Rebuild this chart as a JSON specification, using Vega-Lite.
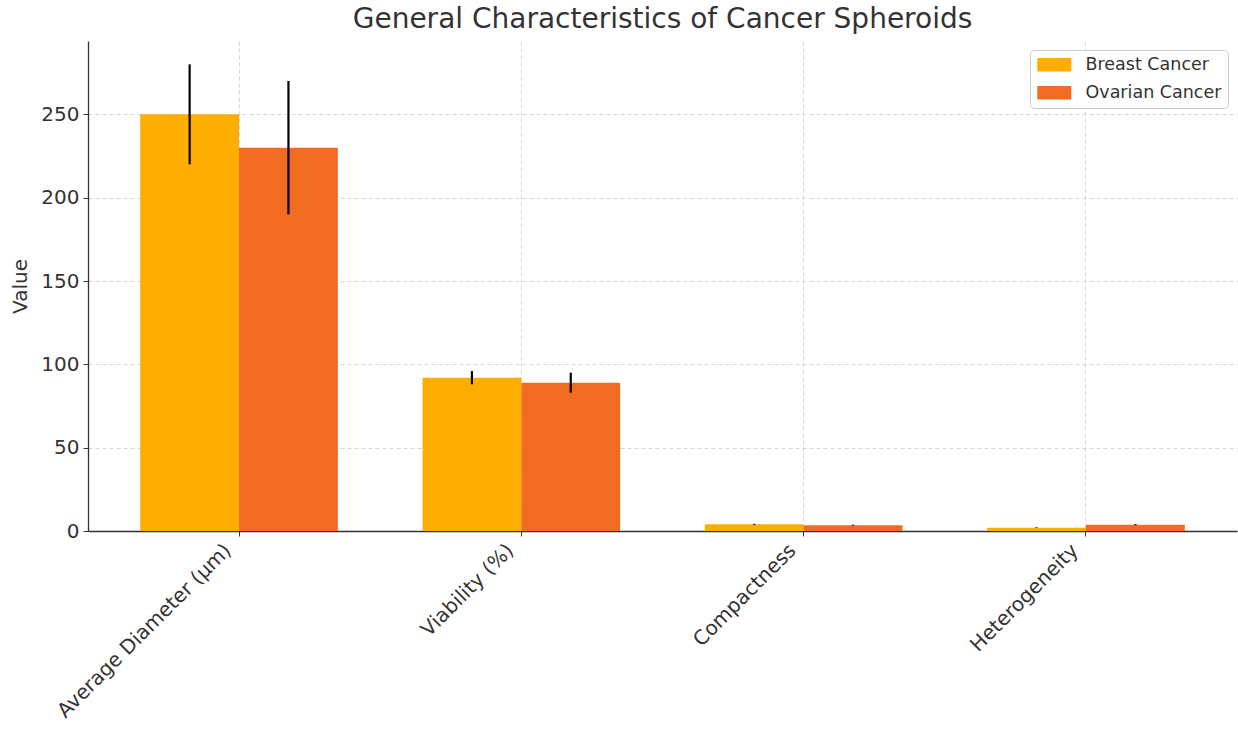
{
  "$schema": "https://vega.github.io/schema/vega-lite/v6.json",
  "width": 1149,
  "height": 490,
  "autosize": {"type": "none"},
  "padding": {"left": 88, "top": 41, "right": 1, "bottom": 198},
  "background": "white",
  "config": {
    "font": "DejaVu Sans",
    "view": {"stroke": null},
    "axis": {"labelColor": "#333333", "titleColor": "#333333", "domainColor": "#333333", "tickColor": "#333333", "gridColor": "#cccccc", "gridDash": [4, 3], "gridWidth": 0.8, "labelFontSize": 20, "titleFontSize": 20, "titleFontWeight": "normal", "tickSize": 5, "domainWidth": 1.3, "labelLimit": 0}
  },
  "title": {"text": "General Characteristics of Cancer Spheroids", "fontSize": 28, "fontWeight": "normal", "color": "#333333", "anchor": "middle", "offset": 7, "frame": "group"},
  "data": {
    "values": [
      {"category": "Average Diameter (μm)", "group": "Breast Cancer", "value": 250, "lo": 220, "hi": 280},
      {"category": "Average Diameter (μm)", "group": "Ovarian Cancer", "value": 230, "lo": 190, "hi": 270},
      {"category": "Viability (%)", "group": "Breast Cancer", "value": 92, "lo": 88, "hi": 96},
      {"category": "Viability (%)", "group": "Ovarian Cancer", "value": 89, "lo": 83, "hi": 95},
      {"category": "Compactness", "group": "Breast Cancer", "value": 4.0, "lo": 3.7, "hi": 4.3},
      {"category": "Compactness", "group": "Ovarian Cancer", "value": 3.5, "lo": 3.2, "hi": 3.8},
      {"category": "Heterogeneity", "group": "Breast Cancer", "value": 2.0, "lo": 1.8, "hi": 2.2},
      {"category": "Heterogeneity", "group": "Ovarian Cancer", "value": 3.8, "lo": 3.5, "hi": 4.1}
    ]
  },
  "encoding": {
    "x": {
      "field": "category", "type": "nominal", "sort": null,
      "scale": {"paddingInner": 0.3, "paddingOuter": 0.185},
      "axis": {"title": null, "labelAngle": -45, "labelAlign": "right", "labelBaseline": "top", "labelPadding": 4, "labelOffset": -18, "grid": true, "bandPosition": 0.5, "ticks": true}
    },
    "xOffset": {"field": "group", "type": "nominal", "sort": ["Breast Cancer", "Ovarian Cancer"], "scale": {"paddingInner": 0, "paddingOuter": 0}}
  },
  "layer": [
    {
      "mark": {"type": "bar"},
      "encoding": {
        "y": {"field": "value", "type": "quantitative", "scale": {"domain": [0, 294], "nice": false}, "axis": {"title": "Value", "values": [0, 50, 100, 150, 200, 250], "grid": true, "titlePadding": 10, "labelPadding": 4}},
        "color": {"field": "group", "type": "nominal", "scale": {"domain": ["Breast Cancer", "Ovarian Cancer"], "range": ["#FFAD00", "#F26B21"]},
          "legend": {"title": null, "orient": "top-right", "offset": 9, "labelFontSize": 17.5, "labelColor": "#333333", "symbolType": "M-0.88,-0.8L3.12,-0.8L3.12,0.8L-0.88,0.8Z", "symbolSize": 289, "symbolStrokeWidth": 0, "strokeColor": "#cccccc", "fillColor": "white", "padding": 6, "cornerRadius": 4, "rowPadding": 9, "labelOffset": 32}}
      }
    },
    {
      "mark": {"type": "rule", "color": "black", "strokeWidth": 2.2},
      "encoding": {
        "y": {"field": "lo", "type": "quantitative"},
        "y2": {"field": "hi"}
      }
    }
  ]
}
